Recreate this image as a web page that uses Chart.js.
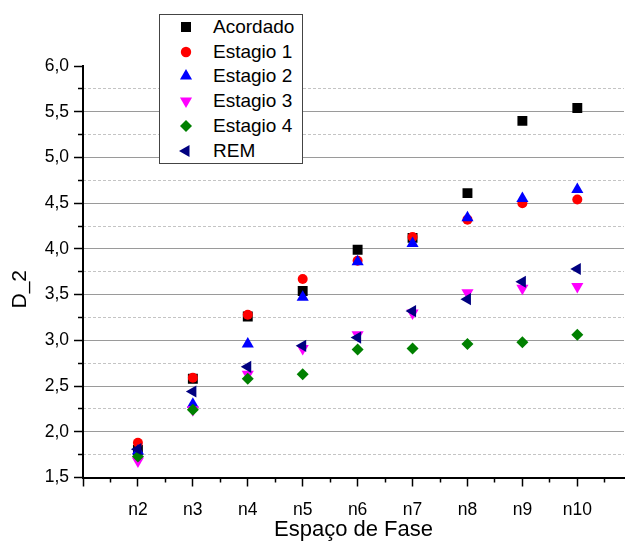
<!DOCTYPE html>
<html><head><meta charset="utf-8">
<script src="https://cdn.jsdelivr.net/npm/chart.js@4.4.0/dist/chart.umd.min.js"></script>
<style>
html,body{margin:0;padding:0;background:#fff;}
#wrap{position:relative;width:631px;height:546px;font-family:"Liberation Sans",Arial,sans-serif;overflow:hidden;}
#c{position:absolute;left:0;top:0;}
#legend{position:absolute;left:159px;top:14px;width:144px;height:150px;border:1px solid #444;background:#fff;box-sizing:border-box;}
.row{position:absolute;left:0;height:24px;line-height:24px;font-size:19px;color:#000;white-space:nowrap;}
.row svg{position:absolute;left:16px;top:2px;}
.row span{position:absolute;left:53px;top:0;}
</style></head><body>
<div id="wrap"><canvas id="c" width="631" height="546"></canvas><div id="legend"></div></div>
<script>
// ---- data ----
const categories = ['n2','n3','n4','n5','n6','n7','n8','n9','n10'];
const acordado = [1.80, 2.58, 3.26, 3.54, 3.99, 4.12, 4.61, 5.40, 5.54];
const estagio1 = [1.88, 2.59, 3.28, 3.67, 3.87, 4.13, 4.32, 4.50, 4.54];
const estagio2 = [1.79, 2.30, 2.96, 3.47, 3.86, 4.06, 4.34, 4.55, 4.65];
const estagio3 = [1.68, 2.24, 2.63, 2.91, 3.06, 3.30, 3.52, 3.57, 3.59];
const estagio4 = [1.73, 2.24, 2.58, 2.63, 2.90, 2.91, 2.96, 2.98, 3.06];
const rem      = [1.81, 2.44, 2.71, 2.94, 3.03, 3.32, 3.45, 3.64, 3.78];
const seriesNames = ['Acordado','Estagio 1','Estagio 2','Estagio 3','Estagio 4','REM'];

const xTickValues = [1,2,3,4,5,6,7,8,9,10];
const xTickLabels = ['','n2','n3','n4','n5','n6','n7','n8','n9','n10'];
const xMinorTicks = [1.5,2.5,3.5,4.5,5.5,6.5,7.5,8.5,9.5,10.5];
const yTickValues = [1.5,2.0,2.5,3.0,3.5,4.0,4.5,5.0,5.5,6.0];
const yTickLabels = ['1,5','2,0','2,5','3,0','3,5','4,0','4,5','5,0','5,5','6,0'];
const yMinorTicks = [1.75,2.25,2.75,3.25,3.75,4.25,4.75,5.25,5.75];

// ---- styles ----
const styles = [
  {color:'#000000', style:'rect', radius:7, rotation:0, order:6},
  {color:'#ff0000', style:'circle', radius:5, rotation:0, order:5},
  {color:'#0000ff', style:'triangle', radius:7, rotation:0, order:4},
  {color:'#ff00ff', style:'triangle', radius:7, rotation:180, order:3},
  {color:'#008000', style:'rectRot', radius:6, rotation:0, order:2},
  {color:'#000080', style:'triangle', radius:7, rotation:-90, order:1}
];
const allSeries = [acordado, estagio1, estagio2, estagio3, estagio4, rem];

const datasets = allSeries.map((vals, k) => ({
  label: seriesNames[k],
  data: vals.map((v, i) => ({x: i + 2, y: v})),
  backgroundColor: styles[k].color,
  borderColor: styles[k].color,
  borderWidth: 0,
  pointStyle: styles[k].style,
  pointRadius: styles[k].radius,
  pointRotation: styles[k].rotation,
  order: styles[k].order,
  xAxisID: 'x', yAxisID: 'y'
}));

const FONT = '"Liberation Sans", Arial, sans-serif';
new Chart(document.getElementById('c'), {
  type: 'scatter',
  data: {datasets},
  options: {
    responsive: false, animation: false, devicePixelRatio: 1,
    layout: {padding: {top: 66, right: 0, left: 0, bottom: 0}},
    plugins: {legend: {display: false}, tooltip: {enabled: false}},
    scales: {
      x: {
        type: 'linear', position: 'bottom', min: 1, max: 10.85, weight: 10,
        afterBuildTicks: s => { s.ticks = xTickValues.map(v => ({value: v})); },
        afterFit: s => { s.height = 68.5; },
        grid: {drawOnChartArea: false, tickLength: 9, tickColor: '#000', tickWidth: 1.5},
        border: {display: true, color: '#000', width: 2},
        ticks: {autoSkip: false, maxRotation: 0, padding: 13, color: '#000',
          font: {family: FONT, size: 17.5},
          callback: (v, i) => xTickLabels[i]},
        title: {display: true, text: 'Espaço de Fase', color: '#000',
          font: {family: FONT, size: 22}, padding: {top: 0, bottom: 3}}
      },
      xMinor: {
        type: 'linear', position: 'bottom', min: 1, max: 10.85, weight: 0,
        afterBuildTicks: s => { s.ticks = xMinorTicks.map(v => ({value: v})); },
        afterFit: s => { s.height = 0; },
        grid: {drawOnChartArea: false, tickLength: 5, tickColor: '#000', tickWidth: 1.5},
        border: {display: false},
        ticks: {display: false}
      },
      y: {
        type: 'linear', position: 'left', min: 1.5, max: 6.0, weight: 10,
        afterBuildTicks: s => { s.ticks = yTickValues.map(v => ({value: v})); },
        afterFit: s => { s.width = 83; },
        grid: {
          color: c => (c.tick && (c.tick.value === 1.5 || c.tick.value === 6)) ? 'rgba(0,0,0,0)' : '#9a9a9a',
          lineWidth: 1, tickLength: 9, tickColor: '#000', tickWidth: 1.5
        },
        border: {display: true, color: '#000', width: 2},
        ticks: {padding: 5, color: '#000', font: {family: FONT, size: 17.5},
          callback: (v, i) => yTickLabels[i]},
        title: {display: true, text: 'D_2      ', color: '#000',
          font: {family: FONT, size: 21}, padding: {top: 8, bottom: 0}}
      },
      yMinor: {
        type: 'linear', position: 'left', min: 1.5, max: 6.0, weight: 0,
        afterBuildTicks: s => { s.ticks = yMinorTicks.map(v => ({value: v})); },
        afterFit: s => { s.width = 0; },
        grid: {color: '#c4c4c4', lineWidth: 1, tickLength: 5, tickColor: '#000', tickWidth: 1.5},
        border: {display: false, dash: [3, 2]},
        ticks: {display: false}
      }
    }
  }
});

// ---- HTML legend ----
const svgShapes = [
  '<rect x="5" y="5" width="10" height="10" fill="#000000"/>',
  '<circle cx="10" cy="10" r="5.2" fill="#ff0000"/>',
  '<polygon points="10,3 16.06,13.5 3.94,13.5" fill="#0000ff"/>',
  '<polygon points="10,17 16.06,6.5 3.94,6.5" fill="#ff00ff"/>',
  '<polygon points="10,4 16,10 10,16 4,10" fill="#008000"/>',
  '<polygon points="3,10 13.5,3.94 13.5,16.06" fill="#000080"/>'
];
const legend = document.getElementById('legend');
seriesNames.forEach((name, k) => {
  const row = document.createElement('div');
  row.className = 'row';
  row.style.top = (11.7 + 24.8 * k - 12) + 'px';
  row.innerHTML = '<svg width="20" height="20" viewBox="0 0 20 20">' + svgShapes[k] + '</svg><span>' + name + '</span>';
  legend.appendChild(row);
});
</script>
</body></html>
